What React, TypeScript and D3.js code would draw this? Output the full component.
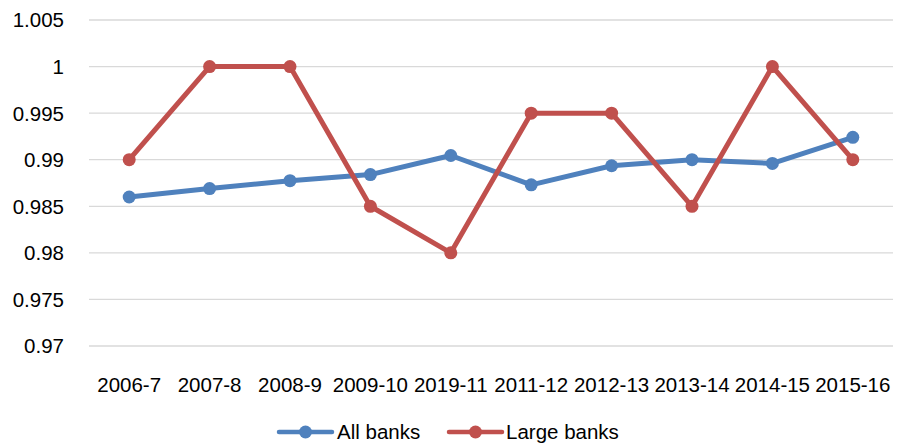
import React from "react";
import * as d3 from "d3";

const categories = [
  "2006-7", "2007-8", "2008-9", "2009-10", "2019-11",
  "2011-12", "2012-13", "2013-14", "2014-15", "2015-16",
];
const allBanks = [0.9860, 0.9869, 0.98775, 0.9884, 0.99045, 0.9873, 0.98935, 0.9900, 0.9896, 0.9924];
const largeBanks = [0.99, 1.0, 1.0, 0.985, 0.98, 0.995, 0.995, 0.985, 1.0, 0.99];
const yTicks = [0.97, 0.975, 0.98, 0.985, 0.99, 0.995, 1, 1.005];
const seriesNames = ["All banks", "Large banks"];
const colors = ["#4F81BD", "#C0504D"];

const W = 904;
const H = 443;
const FONT = "'Liberation Sans', Arial, sans-serif";

export default function App() {
  const x = d3.scaleBand<string>().domain(categories).range([89, 893]);
  const y = d3.scaleLinear().domain([0.97, 1.005]).range([346, 20]);
  const cx = (c: string) => (x(c) ?? 0) + x.bandwidth() / 2;
  const line = d3
    .line<number>()
    .x((_, i) => cx(categories[i]))
    .y((v) => y(v));
  const series = [allBanks, largeBanks];
  const legend = [
    { x1: 279, x2: 332, tx: 337 },
    { x1: 449, x2: 502, tx: 506 },
  ];

  return (
    <svg
      width={W}
      height={H}
      style={{ position: "absolute", left: 0, top: 0, background: "#fff" }}
      fontFamily={FONT}
    >
      {yTicks.map((t) => (
        <g key={t}>
          <line x1={89} x2={893} y1={y(t)} y2={y(t)} stroke="#D9D9D9" strokeWidth={1.3} />
          <text x={64} y={y(t)} dy="0.36em" textAnchor="end" fontSize={20.5} fill="#000">
            {d3.format("")(t)}
          </text>
        </g>
      ))}
      {categories.map((c) => (
        <text key={c} x={cx(c)} y={391.5} textAnchor="middle" fontSize={20.5} fill="#000">
          {c}
        </text>
      ))}
      {series.map((s, si) => (
        <g key={si}>
          <path
            d={line(s) ?? ""}
            fill="none"
            stroke={colors[si]}
            strokeWidth={5}
            strokeLinejoin="round"
            strokeLinecap="round"
          />
          {s.map((v, i) => (
            <circle key={i} cx={cx(categories[i])} cy={y(v)} r={6.5} fill={colors[si]} />
          ))}
        </g>
      ))}
      {legend.map((l, i) => (
        <g key={i}>
          <line x1={l.x1} x2={l.x2} y1={432} y2={432} stroke={colors[i]} strokeWidth={4.5} strokeLinecap="round" />
          <circle cx={(l.x1 + l.x2) / 2} cy={432} r={6.5} fill={colors[i]} />
          <text x={l.tx} y={438.5} fontSize={20.5} fill="#000">
            {seriesNames[i]}
          </text>
        </g>
      ))}
    </svg>
  );
}
